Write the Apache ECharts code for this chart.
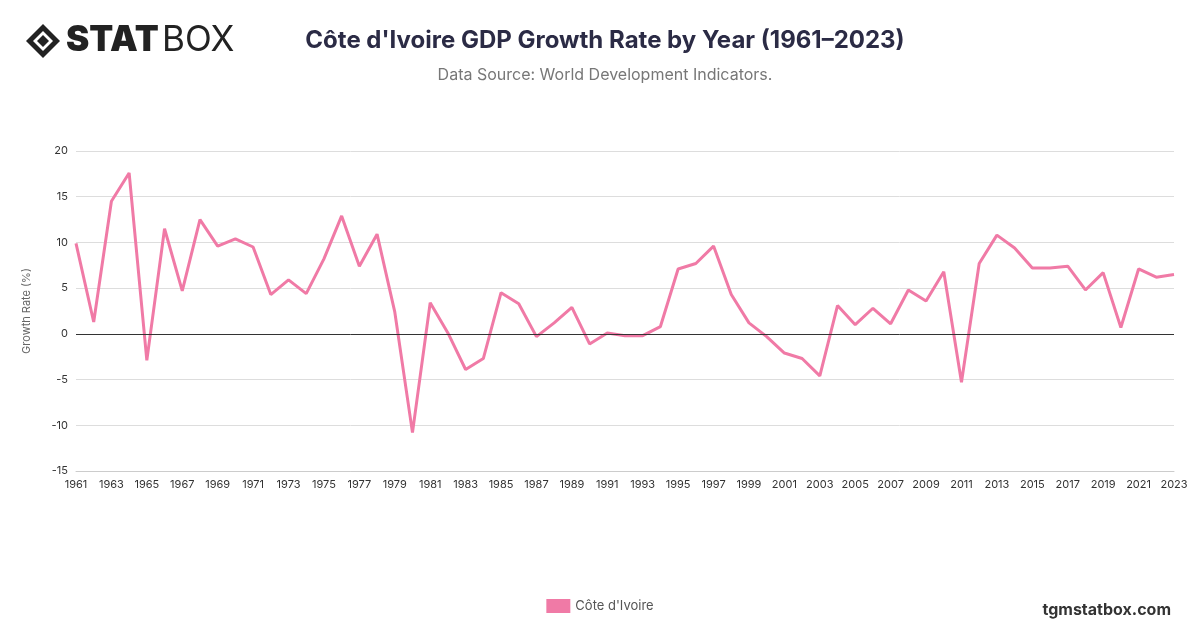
<!DOCTYPE html>
<html>
<head>
<meta charset="utf-8">
<script src="https://cdn.jsdelivr.net/npm/echarts@6/dist/echarts.min.js"></script>
<style>html,body{margin:0;padding:0;background:#fff}#chart{width:1200px;height:628px}</style>
</head>
<body>
<div id="chart"></div>
<script>
var years = [];
for (var y = 1961; y <= 2023; y++) years.push(String(y));

var growth = [9.9, 1.3, 14.5, 17.6, -2.9, 11.5, 4.7, 12.5, 9.6, 10.4,
    9.5, 4.3, 5.9, 4.4, 8.2, 12.9, 7.4, 10.9, 2.4, -10.8,
    3.4, 0.1, -3.9, -2.7, 4.5, 3.3, -0.3, 1.2, 2.9, -1.1,
    0.1, -0.2, -0.2, 0.8, 7.1, 7.7, 9.6, 4.3, 1.2, -0.3,
    -2.1, -2.7, -4.6, 3.1, 1.0, 2.8, 1.1, 4.8, 3.6, 6.8,
    -5.3, 7.7, 10.8, 9.4, 7.2, 7.2, 7.4, 4.8, 6.7, 0.7,
    7.1, 6.2, 6.5];

var chart = echarts.init(document.getElementById('chart'));
var option = {
    animation: false,
    textStyle: {fontFamily: 'Inter, Roboto, sans-serif'},
    title: [{
        text: "Côte d'Ivoire GDP Growth Rate by Year (1961–2023)",
        left: 600, top: 24, textAlign: 'center',
        textStyle: {fontSize: 24, fontWeight: 'bold', color: '#2b2b45'}
    }, {
        text: 'Data Source: World Development Indicators.',
        left: 600, top: 62, textAlign: 'center',
        textStyle: {fontSize: 16, fontWeight: 'normal', color: '#777'}
    }, {
        text: 'tgmstatbox.com',
        right: 24, top: 597,
        textStyle: {fontSize: 16, fontWeight: 'bold', color: '#333'}
    }],
    graphic: [{
        type: 'group', left: 26, top: 23,
        children: [
            {type: 'polygon', shape: {points: [[17, 0], [34, 17], [17, 34], [0, 17]]}, style: {fill: '#222'}},
            {type: 'polygon', shape: {points: [[17, 7], [27, 17], [17, 27], [7, 17]]}, style: {fill: '#fff'}},
            {type: 'polygon', shape: {points: [[17, 11], [23, 17], [17, 23], [11, 17]]}, style: {fill: '#222'}},
            {type: 'text', x: 40, y: -1, style: {text: 'STAT', font: '900 35px Inter, sans-serif', fill: '#222'}},
            {type: 'text', x: 136, y: -1, style: {text: 'BOX', font: '400 35px Inter, sans-serif', fill: '#222'}}
        ]
    }],
    legend: {
        bottom: 10, left: 'center', icon: 'rect', itemWidth: 24, itemHeight: 14,
        textStyle: {fontSize: 13, color: '#555'}
    },
    grid: {left: 76, right: 26, top: 151, bottom: 157},
    xAxis: {
        type: 'category', data: years, boundaryGap: false,
        axisLine: {show: true, onZero: false, lineStyle: {color: '#ccc'}},
        axisTick: {show: false},
        axisLabel: {interval: 1, color: '#333', fontSize: 11}
    },
    yAxis: {
        type: 'value', min: -15, max: 20, interval: 5,
        name: 'Growth Rate (%)', nameLocation: 'middle', nameGap: 44,
        nameTextStyle: {color: '#666', fontSize: 11},
        axisLabel: {color: '#333', fontSize: 11},
        splitLine: {lineStyle: {color: '#ddd'}}
    },
    series: [{
        name: "Côte d'Ivoire", type: 'line', data: growth,
        showSymbol: false, color: '#f07aa6',
        lineStyle: {width: 3, color: '#f07aa6'},
        markLine: {
            silent: true, symbol: 'none', label: {show: false},
            lineStyle: {color: '#333', type: 'solid', width: 1},
            data: [{yAxis: 0}]
        }
    }]
};
chart.setOption(option);
</script>
</body>
</html>
